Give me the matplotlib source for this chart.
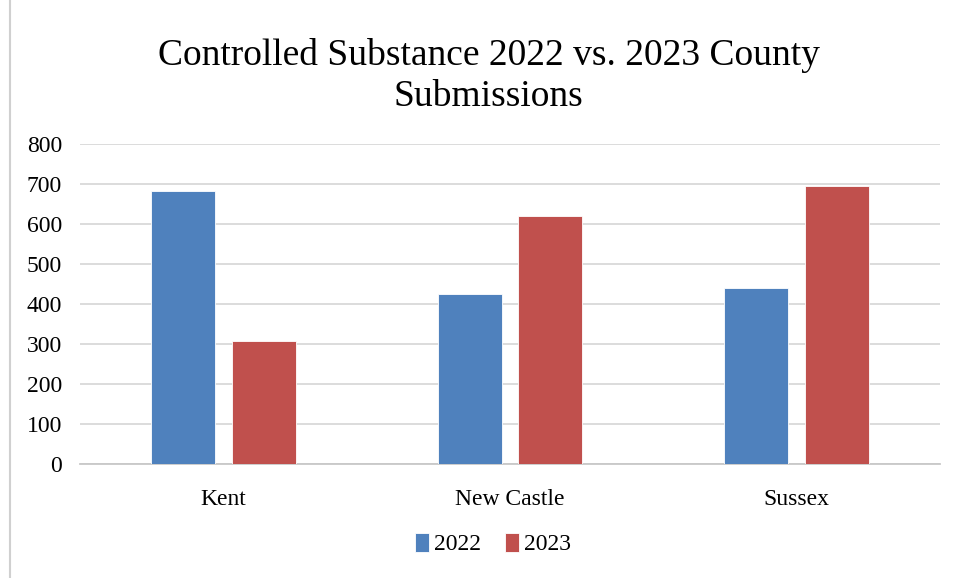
import matplotlib
matplotlib.use('Agg')
import matplotlib.pyplot as plt
import numpy as np
from matplotlib.lines import Line2D

# Datos
condados = ['Kent', 'New Castle', 'Sussex']
envios_2022 = [682, 425, 440]
envios_2023 = [308, 621, 696]
anios = ['2022', '2023']

color_2022 = '#4F81BD'
color_2023 = '#C0504D'

plt.rcParams['font.family'] = ['Liberation Serif', 'DejaVu Serif']

fig = plt.figure(figsize=(9.58, 5.78), dpi=100)
ax = fig.add_axes([80 / 958, 1 - 464 / 578, 860 / 958, 320 / 578])

x = np.arange(len(condados))
ancho = 0.223
desp = 0.141
ax.bar(x - desp, envios_2022, width=ancho, color=color_2022, label=anios[0],
       edgecolor='white', linewidth=0.6, zorder=3)
ax.bar(x + desp, envios_2023, width=ancho, color=color_2023, label=anios[1],
       edgecolor='white', linewidth=0.6, zorder=3)

ax.set_xlim(-0.5, len(condados) - 0.5)
ax.set_ylim(0, 800)
ax.set_yticks(range(0, 801, 100))
ax.set_xticks(x)
ax.set_xticklabels(condados, fontsize=17)
ax.tick_params(axis='y', labelsize=17, length=0, pad=13)
ax.tick_params(axis='x', length=0, pad=18)

ax.grid(axis='y', color='#d9d9d9', linewidth=1.3, zorder=0)
for lado in ['top', 'right', 'left']:
    ax.spines[lado].set_visible(False)
ax.spines['bottom'].set_color('#c8c8c8')
ax.spines['bottom'].set_linewidth(1.3)

fig.text(0.51, 0.935, 'Controlled Substance 2022 vs. 2023 County\nSubmissions',
         fontsize=27, ha='center', va='top', linespacing=1.26)

fig.legend(loc='center', bbox_to_anchor=(493 / 958, 1 - 544 / 578), ncol=2,
           frameon=False, fontsize=17, handlelength=0.6, handleheight=0.9,
           handletextpad=0.2, columnspacing=1.0)

# Borde izquierdo del área del gráfico
fig.add_artist(Line2D([10 / 958, 10 / 958], [0, 1], color='#d0d0d0', linewidth=1.5))

fig.savefig('out.png', dpi=100, facecolor='white')
plt.close(fig)
